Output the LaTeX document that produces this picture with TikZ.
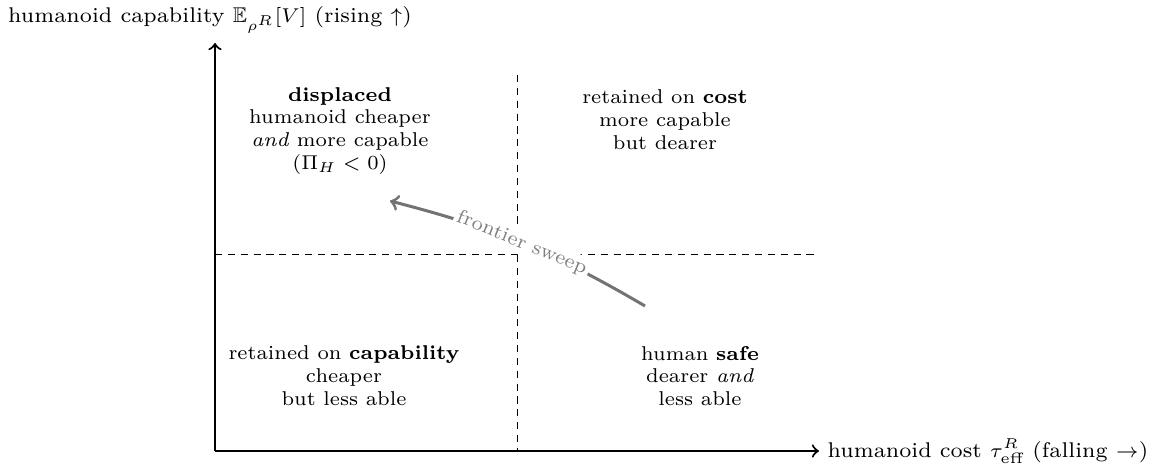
\documentclass[tikz,border=0pt]{standalone}
\usepackage{amsmath,amssymb}
\begin{document}
\begin{tikzpicture}[x=0.35pt,y=-0.35pt,font=\scriptsize,
  axis/.style={line width=0.75pt,->},
  axislabel/.style={font=\fontsize{7.45}{9}\selectfont},
  grid/.style={dashed,line width=0.35pt,dash pattern=on 2.5pt off 2pt},
  quad/.style={align=center,inner sep=0pt},
  sweep/.style={draw=black!55,line width=1.05pt,->},
  sweeplabel/.style={sloped,fill=white,text=black!50,inner sep=1pt}]
\useasboundingbox (0,0) rectangle (1156,465);
% axes
\coordinate (O) at (215,451);
\coordinate (ytip) at (215,43);
\coordinate (xtip) at (819,451);
\draw[axis] (O) -- (ytip);
\draw[axis] (O) -- (xtip);
\node[axislabel,anchor=base] (ylab) at (210,23) {humanoid capability $\mathbb{E}_{\rho^R}[V]$ (rising $\uparrow$)};
\node[axislabel,anchor=west,inner sep=0pt] (xlab) at (827,451) {humanoid cost $\tau^R_{\text{eff}}$ (falling $\rightarrow$)};
% quadrant boundaries
\coordinate (vtop) at (517,75);
\coordinate (vbot) at (517,451);
\coordinate (hl) at (215,255);
\coordinate (hr) at (815,255);
\draw[grid] (vtop) -- (vbot);
\draw[grid] (hl) -- (hr);
% quadrant labels
\node[quad] (displaced) at (340,131) {\textbf{displaced}\\humanoid cheaper\\\textit{and} more capable\\$(\Pi_H<0)$};
\node[quad] (cost) at (665,120) {retained on \textbf{cost}\\more capable\\but dearer};
\node[quad] (capab) at (344,376) {retained on \textbf{capability}\\cheaper\\but less able};
\node[quad] (safe) at (700,376) {human \textbf{safe}\\dearer \textit{and}\\less able};
% frontier sweep
\coordinate (fs) at (645,306);
\coordinate (fe) at (390,201);
\draw[sweep] (fs) to[bend right=8] node[sweeplabel] (fslab) {frontier sweep} (fe);
\end{tikzpicture}
\end{document}
